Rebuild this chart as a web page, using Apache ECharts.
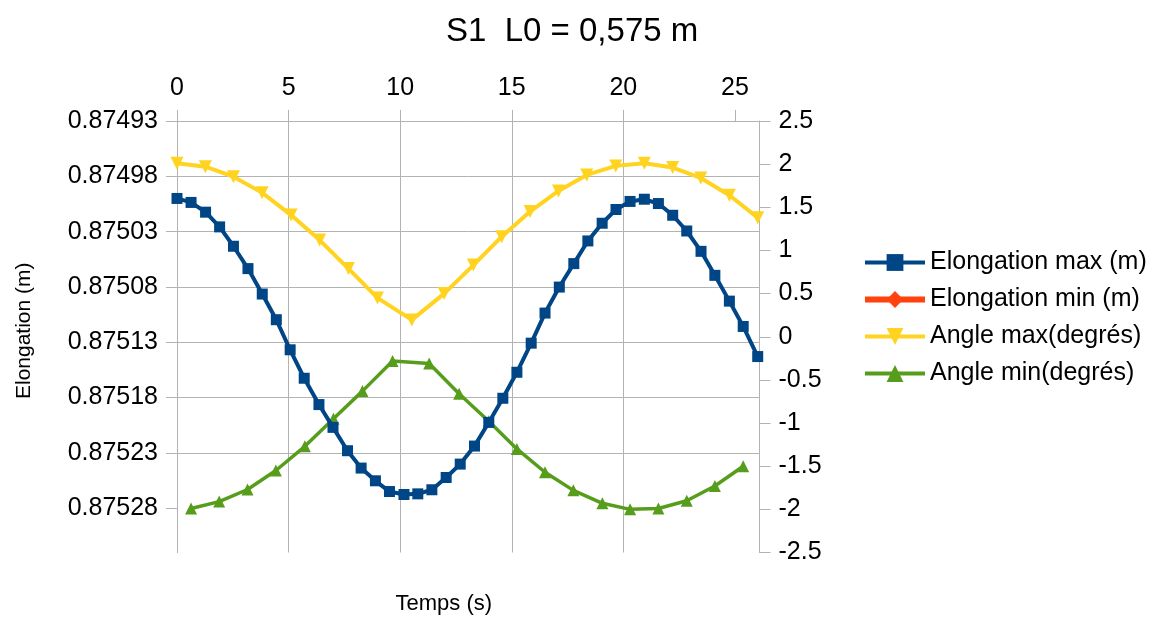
<!DOCTYPE html>
<html>
<head>
<meta charset="utf-8">
<script src="https://cdn.jsdelivr.net/npm/echarts@6/dist/echarts.min.js"></script>
<style>
html,body{margin:0;padding:0;background:#fff;}
#chart{width:1157px;height:617px;}
</style>
</head>
<body>
<div id="chart"></div>
<script>
// ---- Data ----
const titleText = 'S1  L0 = 0,575 m';
const seriesNames = ['Elongation max (m)', 'Elongation min (m)', 'Angle max(degrés)', 'Angle min(degrés)'];

const timeElongMax = [0, 0.63, 1.28, 1.91, 2.53, 3.18, 3.82, 4.45, 5.07, 5.70, 6.36, 6.99, 7.64, 8.25, 8.89, 9.52, 10.17, 10.79, 11.42, 12.06, 12.69, 13.33, 13.97, 14.60, 15.23, 15.87, 16.49, 17.13, 17.78, 18.41, 19.05, 19.67, 20.30, 20.94, 21.57, 22.21, 22.84, 23.48, 24.10, 24.75, 25.37, 26.02];
const elongMax = [0.8750000, 0.8750036, 0.8750124, 0.8750257, 0.8750432, 0.8750634, 0.8750864, 0.8751096, 0.8751368, 0.8751625, 0.8751863, 0.8752069, 0.8752280, 0.8752437, 0.8752552, 0.8752649, 0.8752676, 0.8752670, 0.8752633, 0.8752522, 0.8752401, 0.8752238, 0.8752024, 0.8751806, 0.8751571, 0.8751308, 0.8751036, 0.8750801, 0.8750589, 0.8750384, 0.8750224, 0.8750100, 0.8750027, 0.8750007, 0.8750046, 0.8750152, 0.8750294, 0.8750478, 0.8750695, 0.8750928, 0.8751157, 0.8751429];

const timeElongMin = [];
const elongMin = [];

const timeAngleMax = [0, 1.27, 2.53, 3.81, 5.11, 6.39, 7.68, 8.98, 10.52, 11.97, 13.28, 14.55, 15.82, 17.09, 18.36, 19.66, 20.94, 22.21, 23.47, 24.75, 26.02];
const angleMax = [2.01, 1.97, 1.855, 1.67, 1.41, 1.12, 0.79, 0.45, 0.195, 0.50, 0.83, 1.16, 1.45, 1.69, 1.875, 1.98, 2.01, 1.96, 1.84, 1.64, 1.38];

const timeAngleMin = [0.63, 1.89, 3.16, 4.43, 5.73, 7.01, 8.31, 9.66, 11.30, 12.64, 13.97, 15.23, 16.49, 17.76, 19.06, 20.30, 21.57, 22.84, 24.10, 25.37];
const angleMin = [-1.99, -1.91, -1.77, -1.55, -1.27, -0.95, -0.63, -0.28, -0.31, -0.66, -0.98, -1.30, -1.57, -1.78, -1.93, -2.00, -1.99, -1.90, -1.73, -1.50];

// tick labels
const timeTicks = [0, 5, 10, 15, 20, 25];
const elongTicks = [0.87493, 0.87498, 0.87503, 0.87508, 0.87513, 0.87518, 0.87523, 0.87528];
const angleTicks = [2.5, 2, 1.5, 1, 0.5, 0, -0.5, -1, -1.5, -2, -2.5];

// axis ranges
const xMin = 0, xMax = 26.1, xStep = 5;
const elongAxisMin = 0.87493, elongAxisMax = 0.87532, elongStep = 0.00005;
const angleAxisMin = -2.5, angleAxisMax = 2.5, angleStep = 0.5;

function pairs(xs, ys) { return xs.map((x, i) => [x, ys[i]]); }

const FONT = 'Liberation Sans, Arial, sans-serif';
const GRID_COLOR = '#b3b3b3';
const COLORS = ['#004586', '#ff420e', '#ffd320', '#579d1c'];

const chart = echarts.init(document.getElementById('chart'), null, {renderer: 'canvas'});
chart.setOption({
  animation: false,
  backgroundColor: '#fff',
  textStyle: {fontFamily: FONT},
  title: {
    text: titleText,
    left: 441,
    top: 10,
    textStyle: {fontFamily: FONT, fontSize: 33, fontWeight: 'normal', color: '#000'}
  },
  legend: {
    orient: 'vertical',
    left: 857,
    top: 245,
    itemWidth: 60,
    itemHeight: 21,
    itemGap: 12,
    textStyle: {fontFamily: FONT, fontSize: 25, color: '#000'},
    data: [
      {name: seriesNames[0], lineStyle: {width: 4}},
      {name: seriesNames[1], lineStyle: {width: 6}},
      {name: seriesNames[2], lineStyle: {width: 4}},
      {name: seriesNames[3], lineStyle: {width: 4}}
    ]
  },
  grid: {
    left: 177, right: 397.5, top: 121, bottom: 64.5,
    containLabel: false,
    outerBoundsMode: 'none'
  },
  xAxis: [{
    type: 'value',
    position: 'top',
    min: xMin, max: xMax, interval: xStep,
    axisLine: {show: true, onZero: false, lineStyle: {color: GRID_COLOR, width: 1}},
    axisTick: {show: true, length: 11, customValues: timeTicks, lineStyle: {color: GRID_COLOR}},
    axisLabel: {show: true, margin: 20, fontSize: 25, color: '#000', fontFamily: FONT, customValues: timeTicks},
    splitLine: {show: true, showMaxLine: false, lineStyle: {color: GRID_COLOR, width: 1}}
  }, {
    type: 'value',
    position: 'bottom',
    min: 0, max: 1,
    name: 'Temps (s)',
    nameLocation: 'middle',
    nameGap: 40,
    nameTextStyle: {fontFamily: FONT, fontSize: 22, color: '#000', padding: [0, 49, 0, 0]},
    axisLine: {show: false, onZero: false},
    axisTick: {show: false},
    axisLabel: {show: false},
    splitLine: {show: false}
  }],
  yAxis: [{
    type: 'value',
    position: 'left',
    inverse: true,
    min: elongAxisMin, max: elongAxisMax, interval: elongStep,
    name: 'Elongation (m)',
    nameLocation: 'middle',
    nameGap: 142,
    nameRotate: 90,
    nameTextStyle: {fontFamily: FONT, fontSize: 21, color: '#000', padding: [0, 0, 0, 12]},
    axisLine: {show: true, onZero: false, lineStyle: {color: GRID_COLOR, width: 1}},
    axisTick: {show: true, length: 11, customValues: elongTicks, lineStyle: {color: GRID_COLOR}},
    axisLabel: {
      show: true, margin: 19, fontSize: 25, color: '#000', fontFamily: FONT,
      customValues: elongTicks,
      formatter: v => v.toFixed(5)
    },
    splitLine: {show: true, showMaxLine: false, lineStyle: {color: GRID_COLOR, width: 1}}
  }, {
    type: 'value',
    position: 'right',
    min: angleAxisMin, max: angleAxisMax, interval: angleStep,
    axisLine: {show: true, onZero: false, lineStyle: {color: GRID_COLOR, width: 1}},
    axisTick: {show: true, length: 11, customValues: angleTicks, lineStyle: {color: GRID_COLOR}},
    axisLabel: {show: true, margin: 19, fontSize: 25, color: '#000', fontFamily: FONT, customValues: angleTicks},
    splitLine: {show: false}
  }],
  series: [{
    name: seriesNames[0],
    type: 'line',
    xAxisIndex: 0, yAxisIndex: 0,
    data: pairs(timeElongMax, elongMax),
    symbol: 'rect', symbolSize: 11,
    showAllSymbol: true,
    lineStyle: {color: COLORS[0], width: 4},
    itemStyle: {color: COLORS[0]},
    z: 4
  }, {
    name: seriesNames[1],
    type: 'line',
    xAxisIndex: 0, yAxisIndex: 0,
    data: pairs(timeElongMin, elongMin),
    symbol: 'diamond', symbolSize: 12,
    lineStyle: {color: COLORS[1], width: 6},
    itemStyle: {color: COLORS[1]},
    z: 3
  }, {
    name: seriesNames[2],
    type: 'line',
    xAxisIndex: 0, yAxisIndex: 1,
    data: pairs(timeAngleMax, angleMax),
    symbol: 'triangle', symbolRotate: 180, symbolSize: 13,
    showAllSymbol: true,
    lineStyle: {color: COLORS[2], width: 4},
    itemStyle: {color: COLORS[2]},
    z: 2
  }, {
    name: seriesNames[3],
    type: 'line',
    xAxisIndex: 0, yAxisIndex: 1,
    data: pairs(timeAngleMin, angleMin),
    symbol: 'triangle', symbolSize: 12,
    showAllSymbol: true,
    lineStyle: {color: COLORS[3], width: 3.5},
    itemStyle: {color: COLORS[3]},
    z: 3
  }]
});
</script>
</body>
</html>
